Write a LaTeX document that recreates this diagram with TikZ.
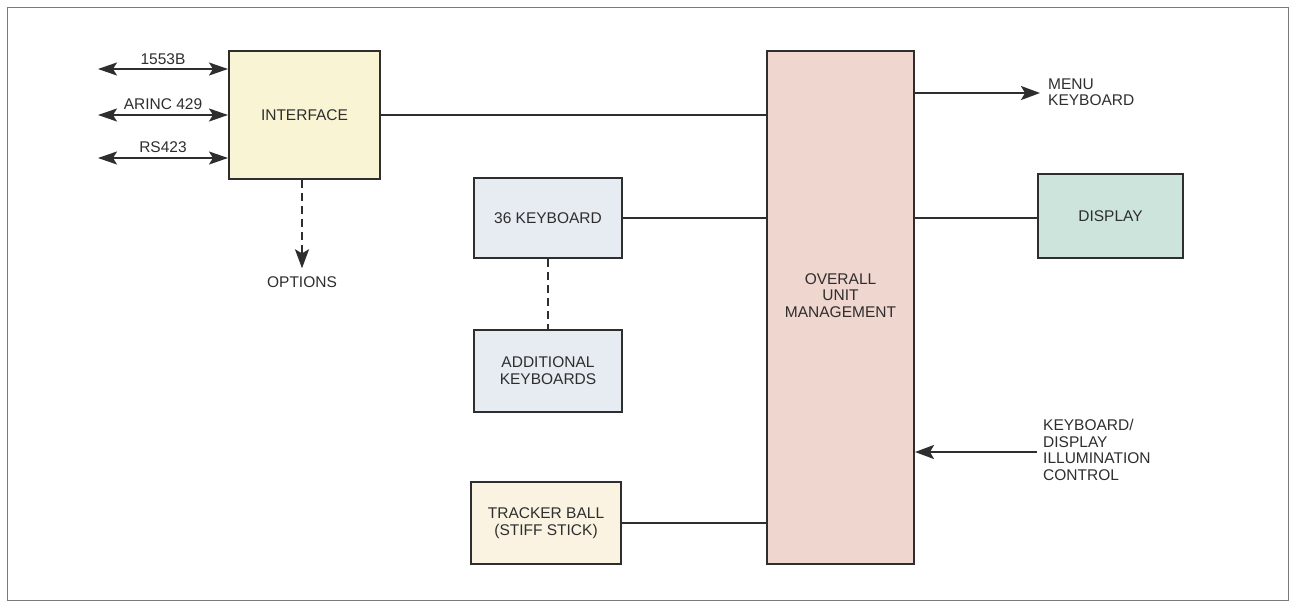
\documentclass[tikz,border=0pt]{standalone}
\usepackage{fontspec}
\setmainfont{Liberation Sans}
\usetikzlibrary{arrows.meta}
\definecolor{ink}{HTML}{2E2E2E}
\definecolor{ifcfill}{HTML}{F8F4D4}
\definecolor{kbfill}{HTML}{E7ECF2}
\definecolor{oumfill}{HTML}{EFD6CF}
\definecolor{dispfill}{HTML}{CDE4DC}
\definecolor{tbfill}{HTML}{FAF3E1}
\definecolor{framecol}{HTML}{7A7A7A}
\tikzset{
  box/.style={draw=ink, line width=2pt, inner sep=0pt, align=center, text=ink,
    font=\fontsize{15.5}{17}\selectfont},
  lbl/.style={text=ink, inner sep=0pt, font=\fontsize{15.5}{16.5}\selectfont},
  conn/.style={draw=ink, line width=2pt},
  arr/.style={conn, -{Stealth[length=19pt,width=14pt,inset=4pt]}},
  darr/.style={conn, {Stealth[length=19pt,width=13pt,inset=4pt]}-{Stealth[length=19pt,width=13pt,inset=4pt]}},
  dashline/.style={dash pattern=on 8pt off 5pt}
}
\begin{document}
\begin{tikzpicture}[x=1pt,y=-1pt]
\useasboundingbox (0,0) rectangle (1295,606);
\draw[framecol, line width=1pt] (7,7) rectangle (1288,600);

% boxes
\node[box, fill=ifcfill, minimum width=151pt, minimum height=128pt] (ifc) at (304.5,115) {INTERFACE};
\node[box, fill=kbfill, minimum width=148pt, minimum height=80pt] (kb) at (548,218) {36 KEYBOARD};
\node[box, fill=kbfill, minimum width=148pt, minimum height=82pt] (akb) at (548,371) {ADDITIONAL\\KEYBOARDS};
\node[box, fill=tbfill, minimum width=150pt, minimum height=82pt] (tb) at (546,523) {TRACKER BALL\\(STIFF STICK)};
\node[box, fill=oumfill, minimum width=147pt, minimum height=513pt] (oum) at (840.5,307.5) {};
\node[lbl, align=center] (oumtxt) at ([yshift=12pt]oum.center) {OVERALL\\UNIT\\MANAGEMENT};
\node[box, fill=dispfill, minimum width=145pt, minimum height=84pt] (disp) at (1110.5,216) {DISPLAY};

% left bus arrows
\coordinate (b1) at (98,69);
\coordinate (b2) at (98,115);
\coordinate (b3) at (98,158);
\draw[darr] (b1) -- (b1 -| ifc.west);
\draw[darr] (b2) -- (b2 -| ifc.west);
\draw[darr] (b3) -- (b3 -| ifc.west);
\node[lbl] (l1) at (163,59) {1553B};
\node[lbl] (l2) at (163,104) {ARINC 429};
\node[lbl] (l3) at (163,147) {RS423};

% options
\node[lbl] (opt) at (302,282) {OPTIONS};
\draw[arr, dashline] (ifc.south -| opt.north) -- ([yshift=8pt]opt.north);

% connections to OUM
\draw[conn] (ifc.east) -- (ifc.east -| oum.west);
\draw[conn] (kb.east) -- (kb.east -| oum.west);
\draw[conn] (tb.east) -- (tb.east -| oum.west);
\draw[conn, dashline] (kb.south) -- (akb.north);
\draw[conn] ([yshift=-2pt]disp.west) -- ([yshift=-2pt]disp.west -| oum.east);

% menu keyboard
\coordinate (menu) at (1040,93);
\draw[arr] (oum.east |- menu) -- (menu);
\node[lbl, anchor=west, align=left] (menutxt) at (1048,92) {MENU\\KEYBOARD};

% illumination control
\coordinate (ill) at (1037,452);
\draw[arr] (ill) -- (ill -| oum.east);
\node[lbl, anchor=west, align=left] (illtxt) at (1043,450) {KEYBOARD/\\DISPLAY\\ILLUMINATION\\CONTROL};
\end{tikzpicture}
\end{document}
